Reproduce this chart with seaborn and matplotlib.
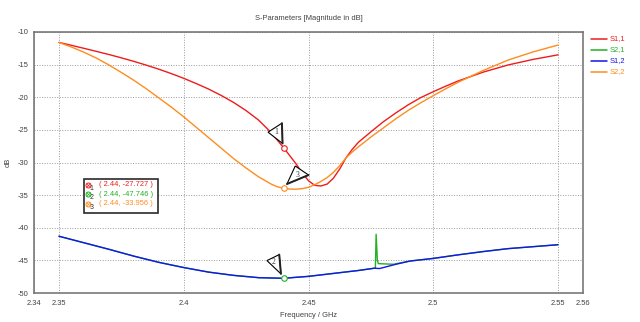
import matplotlib
matplotlib.use("Agg")
import matplotlib.pyplot as plt
import pandas as pd
import seaborn as sns
from matplotlib.lines import Line2D
from matplotlib.patches import Polygon, Rectangle
from matplotlib.transforms import ScaledTranslation

# ---- S-parameter magnitudes (dB) vs frequency (GHz) ----
freq_s11 = [2.350, 2.355, 2.360, 2.365, 2.370, 2.375, 2.380, 2.385, 2.390, 2.395,
            2.400, 2.405, 2.410, 2.415, 2.420, 2.425, 2.430, 2.435, 2.440, 2.445,
            2.4475, 2.450, 2.4525, 2.455, 2.4575, 2.460, 2.4625, 2.465, 2.4675, 2.470,
            2.475, 2.480, 2.485, 2.490, 2.495, 2.500, 2.505, 2.510, 2.520, 2.530,
            2.540, 2.550]
db_s11 = [-11.60, -12.04, -12.50, -12.97, -13.45, -13.96, -14.50, -15.08, -15.70, -16.37,
          -17.10, -17.90, -18.75, -19.72, -20.80, -22.05, -23.50, -25.40, -27.727, -30.20,
          -31.60, -32.80, -33.50, -33.60, -33.30, -32.40, -31.00, -29.30, -28.00, -26.90,
          -25.30, -23.75, -22.40, -21.15, -20.05, -19.15, -18.30, -17.50, -16.15, -15.05,
          -14.20, -13.50]

freq_s22 = [2.350, 2.355, 2.360, 2.365, 2.370, 2.375, 2.380, 2.385, 2.390, 2.395,
            2.400, 2.405, 2.410, 2.415, 2.420, 2.425, 2.430, 2.435, 2.4375, 2.440,
            2.4425, 2.445, 2.4475, 2.450, 2.4525, 2.455, 2.4575, 2.460, 2.4625, 2.465,
            2.4675, 2.470, 2.475, 2.480, 2.485, 2.490, 2.495, 2.500, 2.505, 2.510,
            2.520, 2.530, 2.540, 2.550]
db_s22 = [-11.60, -12.30, -13.10, -14.00, -15.05, -16.20, -17.40, -18.70, -20.10, -21.50,
          -23.00, -24.60, -26.20, -27.80, -29.40, -30.85, -32.20, -33.30, -33.72, -33.956,
          -34.07, -34.10, -34.00, -33.80, -33.40, -32.90, -32.30, -31.50, -30.50, -29.30,
          -28.40, -27.60, -26.10, -24.70, -23.30, -22.00, -20.85, -19.75, -18.70, -17.70,
          -15.90, -14.30, -13.05, -12.00]

freq_s12 = [2.35, 2.36, 2.37, 2.38, 2.39, 2.40, 2.41, 2.42, 2.43, 2.44, 2.45,
            2.46, 2.47, 2.4764, 2.4785, 2.485, 2.4907, 2.50, 2.51, 2.52,
            2.53, 2.54, 2.55]
db_s12 = [-41.3, -42.3, -43.3, -44.35, -45.3, -46.1, -46.8, -47.3, -47.65, -47.746, -47.45,
          -47.0, -46.55, -46.2, -46.25, -45.6, -45.1, -44.7, -44.15, -43.65,
          -43.2, -42.9, -42.6]

freq_s21 = [2.35, 2.36, 2.37, 2.38, 2.39, 2.40, 2.41, 2.42, 2.43, 2.44, 2.45,
            2.46, 2.47, 2.4764, 2.4768, 2.4771, 2.4776, 2.478, 2.484, 2.4907,
            2.50, 2.51, 2.52, 2.53, 2.54, 2.55]
db_s21 = [-41.3, -42.3, -43.3, -44.35, -45.3, -46.1, -46.8, -47.3, -47.65, -47.746, -47.45,
          -47.0, -46.55, -46.2, -46.2, -41.0, -45.0, -45.5, -45.6, -45.1,
          -44.7, -44.15, -43.65, -43.2, -42.9, -42.6]

series_names = ["S1,1", "S2,1", "S1,2", "S2,2"]
series_colors = ["#ee1c1c", "#22b022", "#1414f0", "#ff8c1e"]

# markers 1, 2, 3
marker_freq = 2.44
marker_db = [-27.727, -47.746, -33.956]
marker_series = ["S1,1", "S2,1", "S2,2"]

x_ticks = [2.34, 2.35, 2.4, 2.45, 2.5, 2.55, 2.56]
x_tick_labels = ["2.34", "2.35", "2.4", "2.45", "2.5", "2.55", "2.56"]
y_ticks = [-50, -45, -40, -35, -30, -25, -20, -15, -10]

# ---- figure ----
W, H = 640, 322
sns.set_theme(style="white")
plt.rcParams["font.family"] = ["Liberation Sans", "DejaVu Sans"]
plt.rcParams["axes.unicode_minus"] = False
FS = 5.4
TXT = "#404040"

fig = plt.figure(figsize=(W / 100, H / 100), dpi=100)
fig.patch.set_facecolor("white")


def px(x, y):
    """pixel position (from top-left) -> figure fraction"""
    return x / W, 1 - y / H


ax = fig.add_axes([34 / W, 1 - 293 / H, (583 - 34) / W, (293 - 32) / H])

frames = []
for name, f, d in zip(series_names,
                      [freq_s11, freq_s21, freq_s12, freq_s22],
                      [db_s11, db_s21, db_s12, db_s22]):
    frames.append(pd.DataFrame({"freq": f, "db": d, "param": name}))
df = pd.concat(frames, ignore_index=True)
palette = dict(zip(series_names, series_colors))

sns.lineplot(data=df, x="freq", y="db", hue="param", hue_order=series_names,
             palette=palette, sort=False, estimator=None, lw=1.0,
             legend=False, ax=ax)

ax.set_xlim(2.34, 2.56)
ax.set_ylim(-50, -10)
ax.set_xticks(x_ticks)
ax.set_xticklabels(x_tick_labels)
ax.set_yticks(y_ticks)
ax.tick_params(axis="both", labelsize=FS, colors="#707070", labelcolor=TXT,
               length=2.5, width=0.6, pad=1.5, direction="out")
ax.tick_params(axis="x", pad=2.5)
ax.grid(True, linestyle=(0, (1, 1.6)), color="#9a9a9a", lw=0.7)
for s in ax.spines.values():
    s.set_color("#6e6e6e")
    s.set_linewidth(1.1)

ax.set_title("S-Parameters [Magnitude in dB]", fontsize=FS, color=TXT, pad=9)
ax.set_xlabel("Frequency / GHz", fontsize=FS, color=TXT, labelpad=3.5)
ax.set_ylabel("dB", fontsize=FS, color=TXT, labelpad=4)

# ---- markers with triangular callouts ----
callouts = [
    # vertices (dx, dy) in pixels relative to the marker, text offset
    ([(-15.5, 15.5), (-1.6, 24.5), (-1.0, 4.2)], (-7.5, 15.5)),
    ([(-16.6, 17.7), (-4.3, 23.7), (-2.6, 4.4)], (-10.0, 16.0)),
    ([(11.7, 22.3), (25.0, 13.3), (3.4, 4.3)], (13.8, 13.8)),
]
for i, (name, val) in enumerate(zip(marker_series, marker_db)):
    col = palette[name]
    ax.plot([marker_freq], [val], marker="o", ms=4, mfc="white", mec=col,
            mew=0.8, zorder=6)
    verts, (tx, ty) = callouts[i]
    tr = fig.dpi_scale_trans + ScaledTranslation(marker_freq, val, ax.transData)
    vin = [(vx / 100, vy / 100) for vx, vy in verts]
    ax.add_patch(Polygon(vin, closed=True, facecolor="white", edgecolor="black",
                         lw=0.8, transform=tr, zorder=7))
    # shaded (heavier) edge of the flag
    ax.add_line(Line2D([vin[1][0], vin[2][0]], [vin[1][1], vin[2][1]],
                       color="#222222", lw=1.4, transform=tr, zorder=7.5))
    ax.text(tx / 100, ty / 100, str(i + 1), transform=tr, ha="center",
            va="center", fontsize=5.5, color="#333333",
            family=["Liberation Serif", "DejaVu Serif"], zorder=8)

# ---- marker readout box ----
bx0, by0, bx1, by1 = 84, 179, 157.7, 212.7
fig.add_artist(Rectangle(px(bx0, by1), (bx1 - bx0) / W, (by1 - by0) / H,
                         transform=fig.transFigure, facecolor="white",
                         edgecolor="#2a2a2a", lw=1.2, zorder=10))
row_y = [184.5, 194.2, 203.8]
for i, (name, val) in enumerate(zip(marker_series, marker_db)):
    col = palette[name]
    ix, iy = px(87.5, row_y[i])
    fig.add_artist(Line2D([ix], [iy], marker="o", ms=3.6, mfc="none", mec=col,
                          mew=0.7, transform=fig.transFigure, zorder=11))
    fig.add_artist(Line2D([ix], [iy], marker="x", ms=2.2, color=col,
                          mew=0.5, transform=fig.transFigure, zorder=11))
    nx, ny = px(91.5, row_y[i] + 3.5)
    fig.text(nx, ny, str(i + 1), fontsize=5.0, color="#333333", ha="center",
             va="center", zorder=12)
    lx, ly = px(99, row_y[i])
    fig.text(lx, ly, f"( {marker_freq:.2f}, {val:.3f} )", fontsize=FS,
             color=col, ha="left", va="center", zorder=12)

# ---- legend to the right of the plot ----
leg_y = [39, 50, 61, 72]
for name, col, y in zip(series_names, series_colors, leg_y):
    x0, yy = px(590.7, y)
    x1, _ = px(607.3, y)
    fig.add_artist(Line2D([x0, x1], [yy, yy], color=col, lw=1.1,
                          transform=fig.transFigure))
    tx, _ = px(609.5, y)
    fig.text(tx, yy, name, fontsize=FS, color=col, ha="left", va="center")

fig.savefig("out.png", dpi=100, facecolor="white")
